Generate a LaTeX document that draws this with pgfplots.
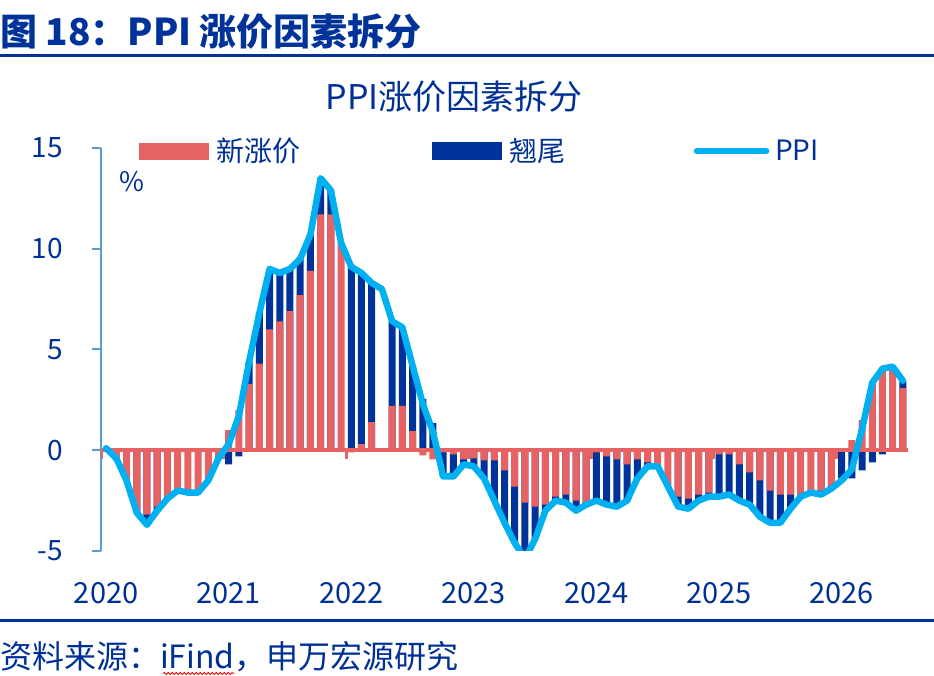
\documentclass[border=0pt]{standalone}
\usepackage{fontspec}
\setmainfont{Noto Sans CJK SC}
\usepackage{pgfplots}
\pgfplotsset{compat=1.18}
\usepackage{pgfplotstable}
\usetikzlibrary{decorations.pathmorphing}

\definecolor{titleblue}{RGB}{0,51,153}
\definecolor{txtblue}{RGB}{0,48,150}
\definecolor{salmon}{RGB}{231,98,98}
\definecolor{barblue}{RGB}{0,51,153}
\definecolor{ppiblue}{RGB}{0,176,240}
\definecolor{axisblue}{RGB}{91,155,213}

% i = month index (0 = 2020-01), ppi = PPI yoy, xin = 新涨价, qw = 翘尾
\pgfplotstableread{
i ppi xin qw
0 0.1 0.1 0.0
1 -0.4 -0.5 0.1
2 -1.5 -1.5 0.0
3 -3.1 -3.0 -0.1
4 -3.7 -3.2 -0.5
5 -3.0 -2.8 -0.2
6 -2.4 -2.4 0.0
7 -2.0 -2.1 0.1
8 -2.1 -2.1 0.0
9 -2.1 -2.1 0.0
10 -1.5 -1.5 0.0
11 -0.4 -0.4 0.0
12 0.3 1.0 -0.7
13 1.7 2.0 -0.3
14 4.4 3.3 1.1
15 6.8 4.3 2.5
16 9.0 6.0 3.0
17 8.8 6.4 2.4
18 9.0 6.9 2.1
19 9.5 7.7 1.8
20 10.7 8.9 1.8
21 13.5 11.7 1.8
22 12.9 11.7 1.2
23 10.3 10.3 0.0
24 9.1 -0.1 9.2
25 8.8 0.3 8.5
26 8.3 1.4 6.9
27 8.0 0.0 0.0
28 6.4 2.2 4.2
29 6.1 2.2 3.9
30 4.2 0.95 3.25
31 2.3 -0.25 2.55
32 0.9 -0.45 1.35
33 -1.3 -0.1 -1.2
34 -1.3 -0.2 -1.1
35 -0.7 -0.45 -0.25
36 -0.8 -0.4 -0.4
37 -1.4 -0.5 -0.9
38 -2.5 -0.5 -2.0
39 -3.6 -1.0 -2.6
40 -4.6 -1.8 -2.8
41 -5.4 -2.6 -2.8
42 -4.4 -2.8 -1.6
43 -3.0 -2.7 -0.3
44 -2.5 -2.3 -0.2
45 -2.6 -2.2 -0.4
46 -3.0 -2.5 -0.5
47 -2.7 -2.6 -0.1
48 -2.5 -0.1 -2.4
49 -2.7 -0.3 -2.4
50 -2.8 -0.45 -2.35
51 -2.5 -0.7 -1.8
52 -1.4 -0.45 -0.95
53 -0.8 -0.6 -0.2
54 -0.8 -0.9 0.1
55 -1.8 -1.8 0.0
56 -2.8 -2.3 -0.5
57 -2.9 -2.4 -0.5
58 -2.5 -2.2 -0.3
59 -2.3 -2.1 -0.2
60 -2.3 -0.2 -2.1
61 -2.2 -0.2 -2.0
62 -2.5 -0.7 -1.8
63 -2.7 -1.1 -1.6
64 -3.3 -1.5 -1.8
65 -3.6 -2.0 -1.6
66 -3.6 -2.2 -1.4
67 -2.9 -2.2 -0.7
68 -2.3 -2.3 0.0
69 -2.1 -2.1 0.0
70 -2.2 -2.0 -0.2
71 -1.9 -1.8 -0.1
72 -1.5 0.1 -1.4
73 -0.95 0.5 -1.4
74 1.05 1.5 -1.0
75 3.35 3.4 -0.6
76 4.05 4.1 -0.2
77 4.15 4.15 0.0
78 3.45 3.1 0.35
}\data

\begin{document}
\begin{tikzpicture}
\path[use as bounding box] (0bp,0bp) rectangle (934bp,676bp);

\begin{scope}[x=1bp,y=1bp]
% title and rules
\node[anchor=west, inner sep=0pt, text=titleblue, font=\fontsize{37bp}{40bp}\selectfont\bfseries] at (0,644) {图 18：PPI 涨价因素拆分};
\draw[titleblue, line width=3bp] (0,620) -- (934,620);
\draw[titleblue, line width=3bp] (0,55) -- (934,55);
% chart title
\node[inner sep=0pt, text=txtblue, font=\fontsize{34bp}{36bp}\selectfont] at (454,579) {PPI涨价因素拆分};
% legend
\fill[salmon] (139,516) rectangle (209,533);
\node[anchor=west, inner sep=0pt, text=txtblue, font=\fontsize{28bp}{30bp}\selectfont] at (216,525) {新涨价};
\fill[barblue] (432,516) rectangle (502,534);
\node[anchor=west, inner sep=0pt, text=txtblue, font=\fontsize{28bp}{30bp}\selectfont] at (509,525) {翘尾};
\draw[ppiblue, line width=6.7bp, line cap=round] (697,525) -- (766,525);
\node[anchor=west, inner sep=0pt, text=txtblue, font=\fontsize{28bp}{30bp}\selectfont] at (775,526) {PPI};
% unit
\node[inner sep=0pt, text=txtblue, font=\fontsize{27bp}{30bp}\selectfont] at (132,494) {\%};
% source
\node[anchor=west, inner sep=0pt, text=txtblue, font=\fontsize{32bp}{34bp}\selectfont] at (0,19) {资料来源：iFind，申万宏源研究};
\draw[red, line width=0.8bp, decorate, decoration={snake, amplitude=1bp, segment length=4bp}] (163,2.5) -- (234,2.5);
\end{scope}

\begin{axis}[
  at={(101bp,125bp)}, anchor=south west,
  width=807bp, height=403bp, scale only axis,
  xmin=-0.5, xmax=78.5, ymin=-5, ymax=15,
  axis y line*=left, axis x line*=bottom,
  x axis line style={draw=none},
  y axis line style={draw=axisblue, line width=2bp},
  ytick={-5,0,5,10,15}, yticklabels={-5,0,5,10,15},
  xtick={0,12,24,36,48,60,72}, xticklabels={2020,2021,2022,2023,2024,2025,2026},
  xtick style={draw=none},
  ytick style={draw=axisblue, line width=2bp},
  ytick align=outside, major tick length=9bp,
  /pgf/number format/assume math mode=true,
  tick label style={font=\fontsize{28bp}{30bp}\selectfont, text=txtblue, inner sep=0pt},
  xticklabel style={font=\fontsize{29bp}{30bp}\selectfont},
  yticklabel style={anchor=east},
  yticklabel shift=29bp,
  xticklabel shift=31bp,
]
% 翘尾 (visible extent: stacked on 新涨价 when both share a sign)
\addplot[ybar, bar width=7bp, bar shift=0pt, fill=barblue, draw=none]
  table[x=i, y expr={((\thisrow{xin})*(\thisrow{qw})>0) ? (\thisrow{xin})+(\thisrow{qw}) : (\thisrow{qw})}] {\data};
% 新涨价
\addplot[ybar, bar width=7bp, bar shift=0pt, fill=salmon, draw=none]
  table[x=i, y=xin] {\data};
% zero axis line and year ticks
\addplot[salmon, line width=3.5bp] coordinates {(-0.5,0) (78.5,0)};
\addplot[ycomb, salmon, line width=3bp] coordinates {(-0.5,-0.45) (11.5,-0.45) (23.5,-0.45) (35.5,-0.45) (47.5,-0.45) (59.5,-0.45) (71.5,-0.45)};
% PPI
\addplot[ppiblue, line width=6.5bp, line join=round, line cap=round] table[x=i, y=ppi] {\data};
\end{axis}
\end{tikzpicture}
\end{document}
